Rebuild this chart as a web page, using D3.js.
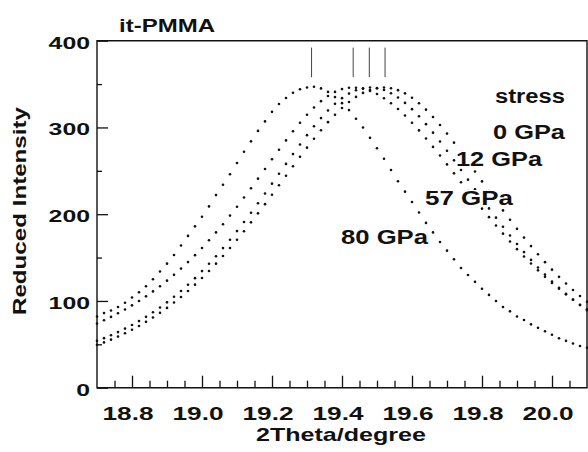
<!DOCTYPE html>
<html>
<head>
<meta charset="utf-8">
<script src="https://cdn.jsdelivr.net/npm/d3@7"></script>
<style>
  html, body { margin: 0; padding: 0; background: #fff; }
  svg { display: block; }
  text { font-family: "Liberation Sans", Arial, Helvetica, sans-serif; font-weight: bold; fill: #111; }
</style>
</head>
<body>
<svg id="chart" width="588" height="452"></svg>
<script>
// ---------------- data ----------------
const twoTheta = [
  18.70, 18.72, 18.74, 18.76, 18.78, 18.80, 18.82, 18.84, 18.86, 18.88,
  18.90, 18.92, 18.94, 18.96, 18.98, 19.00, 19.02, 19.04, 19.06, 19.08,
  19.10, 19.12, 19.14, 19.16, 19.18, 19.20, 19.22, 19.24, 19.26, 19.28,
  19.30, 19.32, 19.34, 19.36, 19.38, 19.40, 19.42, 19.44, 19.46, 19.48,
  19.50, 19.52, 19.54, 19.56, 19.58, 19.60, 19.62, 19.64, 19.66, 19.68,
  19.70, 19.72, 19.74, 19.76, 19.78, 19.80, 19.82, 19.84, 19.86, 19.88,
  19.90, 19.92, 19.94, 19.96, 19.98, 20.00, 20.02, 20.04, 20.06, 20.08,
  20.10
];

const gpa0 = [
  49.4, 52.2, 55.4, 58.9, 62.7, 66.8, 71.1, 75.9, 80.9, 86.3,
  92.0, 98.2, 104.6, 111.5, 118.8, 126.5, 134.5, 143.0, 151.8, 161.0,
  170.6, 180.4, 190.6, 201.0, 211.6, 222.4, 233.4, 244.3, 255.3, 266.1,
  276.7, 287.0, 296.8, 306.1, 314.7, 322.5, 329.4, 335.2, 339.8, 343.2,
  345.3, 346.0, 345.2, 343.0, 339.3, 334.2, 327.9, 320.5, 312.1, 302.9,
  292.9, 282.5, 271.6, 260.5, 249.2, 237.8, 226.6, 215.4, 204.4, 193.6,
  183.1, 173.0, 163.2, 153.8, 144.7, 136.1, 127.8, 120.1, 112.7, 105.7,
  99.1
];

const gpa12 = [
  54.0, 57.1, 60.5, 64.1, 68.1, 72.3, 76.8, 81.7, 86.9, 92.5,
  98.4, 104.8, 111.5, 118.7, 126.3, 134.4, 142.8, 151.6, 160.9, 170.5,
  180.5, 191.0, 201.6, 212.6, 223.8, 235.2, 246.6, 258.0, 269.3, 280.4,
  291.1, 301.3, 310.8, 319.5, 327.2, 333.8, 339.0, 342.9, 345.2, 346.0,
  345.2, 343.1, 339.4, 334.5, 328.3, 321.1, 312.9, 303.8, 294.0, 283.8,
  273.1, 262.1, 251.0, 239.8, 228.7, 217.6, 206.7, 196.0, 185.6, 175.5,
  165.7, 156.3, 147.3, 138.6, 130.4, 122.5, 115.1, 108.1, 101.4, 95.2,
  89.4
];

const gpa57 = [
  74.0, 77.7, 81.6, 85.8, 90.2, 94.9, 99.9, 105.3, 111.0, 117.0,
  123.4, 130.1, 137.3, 144.8, 152.8, 161.1, 169.9, 179.0, 188.5, 198.4,
  208.6, 219.2, 230.0, 241.0, 252.1, 263.3, 274.3, 285.1, 295.6, 305.5,
  314.7, 323.0, 330.3, 336.3, 341.0, 344.2, 345.8, 345.8, 344.6, 342.1,
  338.5, 333.7, 327.9, 321.2, 313.7, 305.4, 296.6, 287.2, 277.6, 267.6,
  257.4, 247.1, 236.8, 226.6, 216.4, 206.4, 196.6, 186.9, 177.6, 168.5,
  159.7, 151.3, 143.1, 135.3, 127.8, 120.8, 114.0, 107.6, 101.5, 95.7,
  90.3
];

const gpa80 = [
  82, 86, 89, 93, 98, 104, 110, 117, 125, 134,
  143, 153, 164, 175, 186, 197, 209, 222, 234, 246,
  259, 272, 284, 296, 307, 318, 327, 334, 340, 344,
  346, 347, 345, 341, 335, 328, 320, 310, 300, 288,
  276, 264, 251, 238, 226, 214, 202, 190, 179, 168,
  158, 148, 138, 130, 122, 114, 107, 100, 93, 88,
  82, 78, 73, 69, 65, 61, 57, 54, 51, 48,
  46
];

const seriesNames = ["0 GPa", "12 GPa", "57 GPa", "80 GPa"];
const seriesValues = [gpa0, gpa12, gpa57, gpa80];

const peakMarks = [19.313, 19.432, 19.478, 19.523];

const xMajorTicks = [18.8, 19.0, 19.2, 19.4, 19.6, 19.8, 20.0];
const xTickLabels = ["18.8", "19.0", "19.2", "19.4", "19.6", "19.8", "20.0"];
const xMinorTicks = [18.75, 18.85, 18.9, 18.95, 19.05, 19.1, 19.15, 19.25, 19.3, 19.35,
                     19.45, 19.5, 19.55, 19.65, 19.7, 19.75, 19.85, 19.9, 19.95, 20.05];
const yMajorTicks = [0, 100, 200, 300, 400];
const yTickLabels = ["0", "100", "200", "300", "400"];
const yMinorTicks = [50, 150, 250, 350];

// ---------------- layout ----------------
const svg = d3.select("#chart");
const L = 97, R = 587, T = 40.7, B = 387.7;

const x = d3.scaleLinear().domain([18.7, 20.1]).range([L, R]);
const y = d3.scaleLinear().domain([0, 400]).range([B, T]);

// ticks (inward)
const gxMinor = svg.append("g").attr("transform", `translate(0,${B})`)
  .call(d3.axisBottom(x).tickValues(xMinorTicks).tickSize(-7).tickFormat(""));
const gxMajor = svg.append("g").attr("transform", `translate(0,${B})`)
  .call(d3.axisBottom(x).tickValues(xMajorTicks).tickSize(-12).tickFormat(""));
const gyMinor = svg.append("g").attr("transform", `translate(${L},0)`)
  .call(d3.axisLeft(y).tickValues(yMinorTicks).tickSize(-5).tickFormat(""));
const gyMajor = svg.append("g").attr("transform", `translate(${L},0)`)
  .call(d3.axisLeft(y).tickValues(yMajorTicks).tickSize(-11).tickFormat(""));
[gxMinor, gxMajor, gyMinor, gyMajor].forEach(g => {
  g.select(".domain").remove();
  g.selectAll(".tick line").attr("stroke", "#111").attr("stroke-width", 1.3);
});

// frame
svg.append("path")
  .attr("d", `M${L},${T}H${R}V${B}H${L}Z`)
  .attr("fill", "none").attr("stroke", "#111").attr("stroke-width", 1.4);

// tick labels
svg.append("g").selectAll("text").data(yMajorTicks).join("text")
  .attr("x", 90).attr("y", d => y(d) + 8)
  .attr("text-anchor", "end")
  .attr("font-size", 16.5)
  .attr("textLength", (d, i) => yTickLabels[i].length * 13.8)
  .attr("lengthAdjust", "spacingAndGlyphs")
  .text((d, i) => yTickLabels[i]);

svg.append("g").selectAll("text").data(xMajorTicks).join("text")
  .attr("x", d => x(d) - 4).attr("y", 420)
  .attr("text-anchor", "middle")
  .attr("font-size", 18.5)
  .attr("textLength", 51)
  .attr("lengthAdjust", "spacingAndGlyphs")
  .text((d, i) => xTickLabels[i]);

// axis titles
svg.append("text")
  .attr("x", 341).attr("y", 440.5)
  .attr("text-anchor", "middle")
  .attr("font-size", 19)
  .attr("textLength", 170).attr("lengthAdjust", "spacingAndGlyphs")
  .text("2Theta/degree");

svg.append("text")
  .attr("transform", "translate(25.5,211) rotate(-90)")
  .attr("text-anchor", "middle")
  .attr("font-size", 19)
  .attr("textLength", 208).attr("lengthAdjust", "spacingAndGlyphs")
  .text("Reduced Intensity");

svg.append("text")
  .attr("x", 119).attr("y", 32)
  .attr("font-size", 18.5)
  .attr("textLength", 96).attr("lengthAdjust", "spacingAndGlyphs")
  .text("it-PMMA");

// peak marker lines
svg.append("g").selectAll("line").data(peakMarks).join("line")
  .attr("x1", d => x(d)).attr("x2", d => x(d))
  .attr("y1", y(392)).attr("y2", y(358))
  .attr("stroke", "#444").attr("stroke-width", 1);

// dotted series
const dotsG = svg.append("g");
seriesValues.forEach((vals, si) => {
  dotsG.append("g").attr("class", "series-" + si)
    .selectAll("circle").data(vals).join("circle")
    .attr("cx", (d, i) => x(twoTheta[i]))
    .attr("cy", d => y(d))
    .attr("r", 1.3)
    .attr("fill", "#111");
});

// labels with white backing (they hide the dots beneath them)
const labels = [
  { text: "stress", x: 495, y: 103, w: 70 },
  { text: seriesNames[0], x: 493, y: 138.5, w: 72 },
  { text: seriesNames[1], x: 456, y: 166, w: 86 },
  { text: seriesNames[2], x: 425, y: 205, w: 88 },
  { text: seriesNames[3], x: 341, y: 243.5, w: 87 }
];
const lg = svg.append("g");
labels.forEach(l => {
  const bg = lg.append("rect").attr("fill", "#fff");
  const t = lg.append("text")
    .attr("x", l.x).attr("y", l.y)
    .attr("font-size", 19.5)
    .attr("textLength", l.w).attr("lengthAdjust", "spacingAndGlyphs")
    .text(l.text);
  const bb = t.node().getBBox();
  bg.attr("x", bb.x + 1).attr("y", bb.y + 3)
    .attr("width", bb.width - 2).attr("height", bb.height - 5);
});
</script>
</body>
</html>
